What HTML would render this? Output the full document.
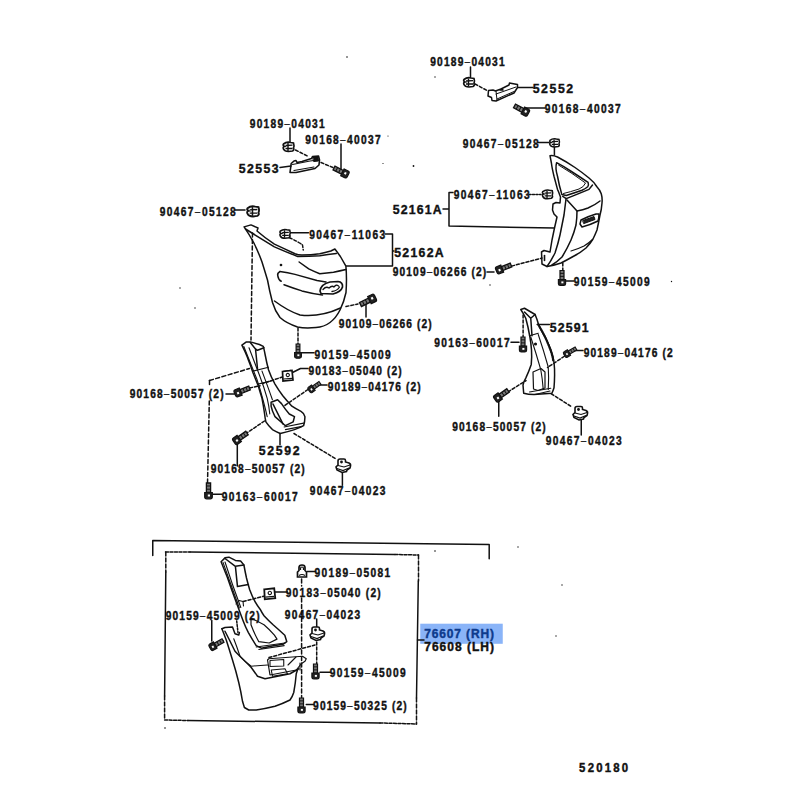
<!DOCTYPE html>
<html><head><meta charset="utf-8"><style>
html,body{margin:0;padding:0;background:#fff;width:800px;height:800px;overflow:hidden}
svg{display:block}
.t text{font-family:"Liberation Sans",sans-serif;font-weight:bold;font-size:12px;fill:#111;stroke:#111;stroke-width:0.4px}
.t text .d{font-weight:normal;stroke-width:0}
</style></head><body>
<svg width="800" height="800" viewBox="0 0 800 800">
<defs>
<g id="bolt">
 <path d="M0 -2.1 H9.5 V2.1 H0 Z" fill="#777" stroke="#111" stroke-width="1.3"/>
 <path d="M3 -2.1 V2.1 M6.2 -2.1 V2.1" stroke="#111" stroke-width="1"/>
 <path d="M9.5 -3.8 H14 Q15.8 -3.8 15.8 -1.8 V1.8 Q15.8 3.8 14 3.8 H9.5 Z" fill="#222" stroke="#111" stroke-width="1.2"/>
 <path d="M11.5 -1.5 h2 v2.2 h-2z" fill="#fff" stroke="none"/>
</g>
<g id="nut">
 <path d="M-5 -4.5 Q-5 -6.5 -3 -6.5 L1 -6.5 Q2.5 -6.5 2.5 -5 L2.5 -3.5 L6 -2.5 Q8 -1.5 7.5 0.5 L7 2.5 L4 4.5 L3.5 6 L-1 7 L-6 4.5 L-7 1.5 L-5 -0.5z" fill="#fff" stroke="#111" stroke-width="1.6"/>
 <path d="M-5 0 L1 1.5 L7 -0.5 M-6 3 L0 5 L6 2.5" stroke="#111" stroke-width="1.2" fill="none"/>
 <circle cx="-1.5" cy="-3.5" r="1.4" fill="#111"/>
</g>
<g id="clip">
 <path d="M-5 -3 Q-2 -5.5 2 -4.5 L5 -4 Q6 -1 5 1 Q6 3 4 4 L0 4.5 Q-4 4.5 -5 2 Q-6 0 -4 -0.5 Q-6 -1.5 -5 -3z" fill="#fff" stroke="#111" stroke-width="1.7"/>
 <path d="M-3 -1.5 L4 -1.8 M-3 1.5 L4 1.5" stroke="#111" stroke-width="1.3" fill="none"/>
 <path d="M-0.5 -4 V4" stroke="#111" stroke-width="1.4"/>
</g>
<g id="sq">
 <path d="M-5 -4 L4.5 -5 L5.5 4.5 L-4.5 5.5z" fill="#fff" stroke="#111" stroke-width="1.7"/>
 <circle cx="0.3" cy="-0.5" r="1.6" fill="none" stroke="#111" stroke-width="1.1"/>
 <path d="M-4 3.5 L4.5 2.8" stroke="#111" stroke-width="1.2"/>
</g>
</defs>
<rect x="420.25" y="623.7" width="82.5" height="20.1" fill="#8ab4f8"/>
<g class="t">
<text transform="translate(430.2,66) scale(0.85,1)" textLength="87.6" lengthAdjust="spacing">90189<tspan class="d">–</tspan>04031</text>
<text transform="translate(532.7,92.5) scale(0.93,1)" textLength="43.5" lengthAdjust="spacing" style="font-size:13.2px">52552</text>
<text transform="translate(544.7,112.5) scale(0.85,1)" textLength="89.4" lengthAdjust="spacing">90168<tspan class="d">–</tspan>40037</text>
<text transform="translate(462.7,148) scale(0.85,1)" textLength="89.4" lengthAdjust="spacing">90467<tspan class="d">–</tspan>05128</text>
<text transform="translate(249.7,128) scale(0.85,1)" textLength="88.2" lengthAdjust="spacing">90189<tspan class="d">–</tspan>04031</text>
<text transform="translate(305.2,144) scale(0.85,1)" textLength="88.8" lengthAdjust="spacing">90168<tspan class="d">–</tspan>40037</text>
<text transform="translate(238.7,172.5) scale(0.93,1)" textLength="43.0" lengthAdjust="spacing" style="font-size:13.2px">52553</text>
<text transform="translate(159.7,216) scale(0.85,1)" textLength="89.4" lengthAdjust="spacing">90467<tspan class="d">–</tspan>05128</text>
<text transform="translate(309.2,238.75) scale(0.85,1)" textLength="89.4" lengthAdjust="spacing">90467<tspan class="d">–</tspan>11063</text>
<text transform="translate(392.7,214) scale(0.93,1)" textLength="52.7" lengthAdjust="spacing" style="font-size:13.2px">52161A</text>
<text transform="translate(453.7,199) scale(0.85,1)" textLength="89.4" lengthAdjust="spacing">90467<tspan class="d">–</tspan>11063</text>
<text transform="translate(394.2,257) scale(0.93,1)" textLength="53.2" lengthAdjust="spacing" style="font-size:13.2px">52162A</text>
<text transform="translate(392.7,276) scale(0.85,1)" textLength="110.0" lengthAdjust="spacing">90109<tspan class="d">–</tspan>06266 (2)</text>
<text transform="translate(573.7,285.5) scale(0.85,1)" textLength="89.4" lengthAdjust="spacing">90159<tspan class="d">–</tspan>45009</text>
<text transform="translate(338.7,328) scale(0.85,1)" textLength="109.4" lengthAdjust="spacing">90109<tspan class="d">–</tspan>06266 (2)</text>
<text transform="translate(549.7,331.6) scale(0.93,1)" textLength="41.9" lengthAdjust="spacing" style="font-size:13.2px">52591</text>
<text transform="translate(434.3,347) scale(0.85,1)" textLength="88.7" lengthAdjust="spacing">90163<tspan class="d">–</tspan>60017</text>
<text transform="translate(583.7,357) scale(0.85,1)" textLength="104.7" lengthAdjust="spacing">90189<tspan class="d">–</tspan>04176 (2</text>
<text transform="translate(314.5,358.8) scale(0.85,1)" textLength="89.6" lengthAdjust="spacing">90159<tspan class="d">–</tspan>45009</text>
<text transform="translate(308.5,374.8) scale(0.85,1)" textLength="109.6" lengthAdjust="spacing">90183<tspan class="d">–</tspan>05040 (2)</text>
<text transform="translate(327.7,390.8) scale(0.85,1)" textLength="109.4" lengthAdjust="spacing">90189<tspan class="d">–</tspan>04176 (2)</text>
<text transform="translate(129.7,398) scale(0.85,1)" textLength="110.4" lengthAdjust="spacing">90168<tspan class="d">–</tspan>50057 (2)</text>
<text transform="translate(258.7,454.8) scale(0.93,1)" textLength="43.9" lengthAdjust="spacing" style="font-size:13.2px">52592</text>
<text transform="translate(452.2,430.7) scale(0.85,1)" textLength="110.0" lengthAdjust="spacing">90168<tspan class="d">–</tspan>50057 (2)</text>
<text transform="translate(545.7,445) scale(0.85,1)" textLength="89.4" lengthAdjust="spacing">90467<tspan class="d">–</tspan>04023</text>
<text transform="translate(210.7,473) scale(0.85,1)" textLength="110.6" lengthAdjust="spacing">90168<tspan class="d">–</tspan>50057 (2)</text>
<text transform="translate(309.7,494.8) scale(0.85,1)" textLength="89.2" lengthAdjust="spacing">90467<tspan class="d">–</tspan>04023</text>
<text transform="translate(221.7,500.8) scale(0.85,1)" textLength="89.4" lengthAdjust="spacing">90163<tspan class="d">–</tspan>60017</text>
<text transform="translate(314.5,576.6) scale(0.85,1)" textLength="88.9" lengthAdjust="spacing">90189<tspan class="d">–</tspan>05081</text>
<text transform="translate(285.7,596.5) scale(0.85,1)" textLength="111.8" lengthAdjust="spacing">90183<tspan class="d">–</tspan>05040 (2)</text>
<text transform="translate(165.7,620) scale(0.85,1)" textLength="110.4" lengthAdjust="spacing">90159<tspan class="d">–</tspan>45009 (2)</text>
<text transform="translate(284.7,619) scale(0.85,1)" textLength="88.8" lengthAdjust="spacing">90467<tspan class="d">–</tspan>04023</text>
<text transform="translate(424.2,650.7) scale(1.0,1)" textLength="69.8" lengthAdjust="spacing">76608 (LH)</text>
<text transform="translate(329.7,677.3) scale(0.85,1)" textLength="89.4" lengthAdjust="spacing">90159<tspan class="d">–</tspan>45009</text>
<text transform="translate(313.09999999999997,709.6) scale(0.85,1)" textLength="110.1" lengthAdjust="spacing">90159<tspan class="d">–</tspan>50325 (2)</text>
<text transform="translate(579.1,771.5) scale(0.95,1)" textLength="51.7" lengthAdjust="spacing">520180</text>
<text transform="translate(424.2,637.5)" textLength="69.8" lengthAdjust="spacing" style="fill:#0d3a8c;stroke:#0d3a8c">76607 (RH)</text>
</g>
<g fill="none" stroke="#111" stroke-width="1.5" stroke-linecap="round" stroke-linejoin="round">
<!-- ===== top right handle 52552 ===== -->
<path d="M470.5 67 V78"/>
<path d="M475 84 L488 91" stroke-dasharray="3 2"/>
<path d="M488.5 90.5 L488 96 L491.5 97.5 L492 100.5 L496 101 L514 93 L517.5 87.5 L517.5 84.5 L512 83.5 L509.5 83 L509 85 L501 89 L495.5 91 L493 90z"/>
<path d="M496 94 L516 87 M497 99 L514 91.5 M496 91 L497 100" stroke-width="1"/>
<path d="M500 90 l2 -1 l1 1z" fill="#111"/>
<path d="M518 87.5 H533"/>
<path d="M525.5 108 H545"/>
<!-- ===== right part 52161A ===== -->
<path d="M554.4 146.6 V155"/>
<path d="M538 142.5 H549"/>
<path d="M550 155.7 Q553 155 557.5 157 Q567 162 575 167.5 Q583 173 589 178 Q594 182 596.9 186.75 Q600 190 601.25 193.75 Q602.5 198 602 203 Q601.5 210 600 215 Q598.5 223 597 230 Q595 235 593 239 Q590 244 586 248 Q580 253 574 256 Q567 260 561 263 Q554 265.5 547 266.5 L542 264 L541.5 252 L544 250.5 L550 252 L552 240 L554.5 228 L557 217 L554 214 L552.5 210 L553 204 L556 202.5 L560 203 L560.5 197 Q558 190 557.5 189.4 Q555 180 554 176.25 Q552 168 551.4 163 Z"/>
<path d="M556.6 162.7 Q563 166 570.6 171 Q580 177 588.1 182.4 Q589 185 587.7 186.75 Q585 189 582 190.25 Q574 193 566.25 195.5 L561.9 194.6 Q559 185 557.5 176.25 Q555 168 556.6 162.7z"/>
<path d="M558.5 165 Q572 173 585.5 183 Q584 187 579 189 Q570 192 563.5 193.5" stroke-width="1"/>
<path d="M562.75 196.4 L566.25 198.6 Q578 194 589 189.4 L592.5 185"/>
<path d="M566 199 Q565 207 564 215 Q562 225 560 235 Q558 244 555 253 Q551 261 547 266.5"/>
<path d="M567 200 L577 211 Q577 218 576 225 Q574 233 571 240 Q567 249 562 257 Q557 262 552 265"/>
<path d="M577 211 Q583 210 588 208 Q595 205 600 201"/>
<path d="M581 220 Q589 216 596 214 L599 214 Q599 218 598 221 Q590 225 582 227 L580 224z"/>
<path d="M583 220.5 L594 216.5 L595 219.5 L584 223.5z" fill="#222" stroke-width="1"/>
<path d="M571 251 Q578 249 584 246 Q589 243 592 240" stroke-width="1.2"/>
<path d="M544.5 255.5 v5" stroke-width="1.6"/>
<path d="M529 194.5 L541 194.5" stroke-dasharray="2 1.5"/>
<path d="M449 192.5 V226 M449 192.5 H453 M443 209 H449 M449 226 L554.4 228.1"/>
<path d="M497 270 L542 258" stroke-dasharray="3 2"/>
<path d="M487 272 H494"/>
<path d="M562.8 263 V272" stroke-dasharray="3 2"/>
<path d="M566 281 H574"/>
<!-- ===== left handle 52553 ===== -->
<path d="M290 128 V143.5"/>
<path d="M295.5 150 L308.5 156.5" stroke-dasharray="3 2"/>
<path d="M290 172.5 L291.2 163.5 L294 161 L296 160.5 L297 162.5 L302 161.5 L311.5 158.5 L312.5 156.5 L318.5 156 L319.5 160 L319 165 L315 168.5 L296 172.5 Z" stroke-width="1.6"/>
<path d="M292.5 164.5 L310 161 L318 160 M294 170.5 L314 167" stroke-width="1.2"/>
<path d="M313 157.5 L318 157.5 L318.5 161 L314 161.5z" fill="#111" stroke-width="1"/>
<path d="M280 167.5 L291 166"/>
<path d="M341 144 V170"/>
<path d="M321 162.5 L334 168" stroke-dasharray="3 2"/>
<!-- ===== fender 52162A ===== -->
<path d="M235 210 H245"/>
<path d="M244.1 226.9 L251 224.9 L258 228 L257 231 Q265 238 274.4 244.1 Q285 249 295 253.75 Q298 255 301.9 255.1 Q311 255 319.75 253.75 Q325 252.5 330.8 251 L334.9 249 Q337.5 252.5 340.4 256.5 Q343 261 345.9 266.1 Q347 278 346 292.5 Q344 302 340 310 Q336 318 330 322.5 Q324 327 316 327.5 Q305 328.5 297.5 327 Q286 323 280 317.5 Q275 311 272.5 302.5 Q269.5 291 267.5 280 Q264.5 270 262 262 Q258 251 253.75 242.75 Q249 234 244.1 226.9z"/>
<path d="M245.5 229 Q260 238 274.4 246.9 Q286 252 297.75 256.5 Q309 256.5 319.75 255.8 Q328 254.5 336.3 253.5"/>
<path d="M299.1 262 Q304 265.5 308.75 268.9 Q314 271.5 319.75 273.7 Q327 273 333.5 272.3 Q340 271 345.9 269.6"/>
<path d="M279.9 271.6 Q288 272.5 295 274.4 Q306 277.5 317 280.5 L326 282"/>
<path d="M279.9 271.6 Q277 273 277.8 275.8 Q278.5 280 281.25 281.3"/>
<path d="M284 284.7 Q293 288 301.9 290.9 Q312 293.5 322.5 295"/>
<path d="M320 291 Q321 284 330 282 L338 281.5 Q343 282 342.5 287 Q341 292 333 294 L321 293.5z" stroke-width="1.7"/>
<path d="M323 289.5 Q326 286 329 288 Q332 285 334 287 Q336 284 338.5 286 M332 291.5 Q337 291 339.5 287" stroke-width="1.3"/>
<path d="M274.5 301 Q288 311 300 315 Q320 317.5 340.5 308"/>
<circle cx="281" cy="265" r="0.6" fill="#111"/>
<path d="M290.5 232.7 H308.5"/>
<path d="M289 237.5 Q299 242 302.5 245 L303.25 250" stroke-dasharray="3 2"/>
<path d="M385 234 H392.5 V266 M346.5 266 H392.5 M392.5 251 H394"/>
<path d="M346 306.5 L358 304" stroke-dasharray="3 2"/>
<path d="M366 304 V317"/>
<path d="M252.5 233 L251 340" stroke-dasharray="4 2.5"/>
<path d="M298 328 L298 345" stroke-dasharray="3 2"/>
<path d="M302 352.75 H314"/>
<!-- ===== 52592 ===== -->
<path d="M241.9 345.1 L246.4 341.9 L250.3 341.9 L259.4 344.5 L263.3 346.4 Q264.5 351 265.3 355.5 Q266.5 362 268.5 369.8 Q271 377 275 384.1 Q278.5 390 282.8 395.8 Q287 401 291.9 406.2 Q296 409 301 411.4 Q304 413 304.9 416.6 Q305 421 303.6 425.7 Q299.5 428 294.5 429.6 Q287 432 280.2 433.5 Q276 431.5 272.4 429.6 Q268 425 265.9 421.8 Q265 418 264.6 414 Q263.5 406 262 398.4 Q260 392 258.1 385.4 Q255.5 379 252.9 372.4 Q250.5 365 247.7 358.1 Q245 351 241.9 345.1z"/>
<path d="M243.8 346.4 Q250 362 256.8 378.9 Q260.5 390 263.3 401 Q265.5 409 267.2 416.6" stroke-width="1.1"/>
<path d="M249 347.7 Q254 361 259.4 375 Q264 387 267.2 398.4 Q269 406 269.8 414" stroke-width="1.1"/>
<path d="M250.3 342.5 L255.5 349 L257.5 350.3 L264 347.7 M255.5 349 L257.5 368.5"/>
<path d="M252.9 371.1 L268.5 367.2 M258.1 384.1 L273.7 380.2" stroke-width="1.1"/>
<path d="M262 371.1 Q268 387 272.4 399.7" stroke-width="1.1"/>
<path d="M271.1 402.3 L277.6 399.7 L281.5 403.6 Q285 409 289.3 414 L294.5 416.6 L293.2 421.8 L285.4 425.7 Q280 421 275 416.6 Q272 411 271.1 406.2z"/>
<path d="M273 404 Q278 414 283 424" stroke-width="1.6"/>
<path d="M284.1 427 L303.6 423.1 M285.4 429.6 L302.3 426.4" stroke-width="1.1"/>
<path d="M291.5 373 L300.5 368.5 L308 368.5"/>
<path d="M283.5 371.5 L291 370.5 L292 378.5 L285 380 z"/>
<path d="M283 376.75 L263 383.5" stroke-dasharray="3 2"/>
<path d="M226 394 H234.5"/>
<path d="M249.5 388 L260 385.75" stroke-dasharray="3 2"/>
<path d="M209.5 380.5 L249.5 368.5" stroke-dasharray="4 2.5"/>
<path d="M209.5 380.5 V386" stroke-dasharray="4 2.5"/>
<path d="M209.3 401 L207.5 484" stroke-dasharray="4 2.5"/>
<path d="M308 389.5 L284 406" stroke-dasharray="3 2"/>
<path d="M320 385 H327"/>
<path d="M264.5 421 L246 433.5" stroke-dasharray="3 2"/>
<path d="M237.3 442.5 V466"/>
<path d="M280 433.5 V444.75"/>
<path d="M294 433.5 L336.75 459.4" stroke-dasharray="3 2"/>
<path d="M342.4 472.9 V485.25"/>
<path d="M213 494.25 H222"/>
<!-- ===== 52591 ===== -->
<path d="M520.75 309.5 L524.5 308.25 L535.1 314.5 L537 319.5 Q538 323 539.5 327 Q542.5 333 545.75 338.25 Q548.5 344 550.75 349.5 Q553 356 554 362 Q554.8 370 554.6 375 Q554.5 382 554 387.75 Q553 391 551.9 393.25 L534 394.6 Q528 394.5 523.7 393.25 L523 385 Q524 381 525.75 378.1 Q529 371 531.25 364.4 Q532 357 531.5 350 Q531 343 529.9 337 Q528 326 525.75 318.25 Q523.5 313.5 520.75 309.5z"/>
<path d="M524.5 312 L530.75 318.25 L535.1 314.5 M530.75 318.25 L532 335.75"/>
<path d="M529.5 335.75 L538.25 333.25" stroke-width="1.2"/>
<path d="M538.25 324.5 Q541.5 330 544.5 335.75 Q548 343 550.75 350.75 Q552.5 355.5 553.25 360.75" stroke-width="2.2" stroke-dasharray="1.5 1"/>
<path d="M530.75 337 Q536 353 540.75 369.5 Q542.5 379 543.25 389.5" stroke-width="1.1"/>
<path d="M538.25 334.5 Q543.5 350 548.25 367 Q549 378 548.25 389.5" stroke-width="1.1"/>
<path d="M533 372 L541 368.5 L545 372 L545 388 L538 390.5 L533.5 389z" stroke-width="1.2"/>
<path d="M529.5 392 L550.75 388.25 M535 394.5 L550 391" stroke-width="1.1"/>
<circle cx="535.5" cy="344" r="0.8" fill="#111"/>
<path d="M523.1 315 V337.5" stroke-dasharray="3 2"/>
<path d="M511 342.2 H519"/>
<path d="M537.2 324.4 H549.4"/>
<path d="M575.6 350.6 H583"/>
<path d="M564.4 356.25 L547.5 367.5" stroke-dasharray="3 2"/>
<path d="M508 391.9 L526 380.6" stroke-dasharray="3 2"/>
<path d="M498.75 401.25 V416.25"/>
<path d="M551.25 393.75 L571.9 406.9" stroke-dasharray="3 2"/>
<path d="M581.25 420 V435"/>
<!-- ===== lower assembly 76607 ===== -->
<path d="M152.75 555.6 V540.6 L489.2 544.5 V558.75"/>
<path d="M165.5 552 L190 552.1" stroke-dasharray="3 1.5"/>
<path d="M190 552.1 L395 554.5"/>
<path d="M395 554.5 L418.5 555" stroke-dasharray="3 1.5"/>
<path d="M418.5 555 V581" stroke-dasharray="4 2"/>
<path d="M418.3 581 L416.5 698"/>
<path d="M416.5 698 V724" stroke-dasharray="4 2"/>
<path d="M165.8 552 V572" stroke-dasharray="4 2"/>
<path d="M165.8 572 L164.6 696"/>
<path d="M164.6 696 V720" stroke-dasharray="4 2"/>
<path d="M164.6 720 L188 720.5" stroke-dasharray="3 1.5"/>
<path d="M188 720.5 L380 723"/>
<path d="M380 723 L416.5 724" stroke-dasharray="3 1.5"/>
<path d="M417.5 640 H424"/>
<path d="M221.1 561.75 L225 557.85 L228.9 557.2 L235.4 560.45 L240.6 561.1 L243.9 565 Q245 571 246.5 578 Q248 584 249.7 589.7 Q252 596 254.9 601.4 Q257.5 606 260.1 609.2 Q262 613 264 615.7 Q268 620 273.1 624.8 Q279 630 284.8 635.2 L286.8 641.7 L282.9 644.3 Q272 646 261.4 648.2 L256.2 645.6 Q252 639 248.4 632.6 Q245.5 627 243.2 620.9 Q239 610 235.4 600.1 Q231 588 227.6 578 Q224 569 221.1 561.75z"/>
<path d="M225 558.5 L235.4 566.3 L243.9 565 M235.4 566.3 L237.4 585.8 M237.4 586.5 L248.4 584.5"/>
<path d="M223 562.4 Q231 585 239.3 607.9 M225 562 Q232 584 240.8 607.5" stroke-width="1.1"/>
<path d="M251 618.3 Q257 621 264 624.8 Q270 630 274.4 635.2 L277 639.1 L269.2 643 L258.8 641.7 Q254 633 251 624.8z" stroke-width="1.2"/>
<path d="M256.2 647 L284.8 643 M258.8 649.5 L284.2 645.6" stroke-width="1.1"/>
<path d="M243.2 601.4 L264 596.2" stroke-dasharray="3 2"/>
<path d="M236 604 L239 600.5 L243 601.5 L243.5 606" stroke-width="1.1"/>
<path d="M275 592 H287.3"/>
<path d="M221.9 628.75 L225 627.5 L232.5 626.9 L235 633.75 L238.75 635 L239.4 632.5"/>
<path d="M221.9 628.75 Q224 634 226.25 640 Q229.5 650 232.5 660 Q236 671 238.75 682.5 Q241 692 242.5 701.25 L244.4 707.5 L248.75 710 L256.25 710 Q266 708.5 275 706.25 Q283 703.5 290 700 Q292.5 696.5 293.75 692.5 Q295.5 683 296.25 673.75 L297.5 670"/>
<path d="M225 631.25 Q230 641 235 651.25 Q239.5 656 243.75 660 Q247.5 663.5 251.25 667.5 Q254.5 672 257.5 676.25 L265 678.75 L290 673.75 L298.75 668.75"/>
<path d="M233.75 638.75 Q237 647 240 656.25 Q245 662 251.25 666.25 Q259 665.5 267.5 665" stroke-width="1.1"/>
<path d="M268.75 658.75 L302.5 656.25 L306.25 658.75 L305 661.25 L301.25 663.75 L296.25 670 L270 675 L267.5 660z" stroke-width="1.2"/>
<path d="M270 660.5 L283.75 659.5 L283.75 666 L270 666.5z" stroke-width="1.1"/>
<path d="M271.25 670 L285 668.75 L287.5 673.75 L272.5 676.25z" stroke-width="1.1"/>
<path d="M288 665 L296 657 M300 663 V670" stroke-width="1.1"/>
<path d="M236.7 621 L238 632.6" stroke-dasharray="2 1.5"/>
<path d="M211.75 620.4 V641"/>
<path d="M216.25 644 L223 640.6" stroke-dasharray="2 1.5"/>
<path d="M307.4 571.6 H315.5"/>
<path d="M301.6 579 V586" stroke-dasharray="4 2.5"/>
<path d="M301.6 598 V698" stroke-dasharray="4 2.5"/>
<path d="M316.7 619 V627"/>
<path d="M316.7 642 V664" stroke-dasharray="3 2"/>
<path d="M269 657.5 L315 645" stroke-dasharray="3 2"/>
<path d="M320 672.2 H330.5"/>
<path d="M306.25 704.6 H313.6"/>

<g fill="#111" stroke="none">
<circle cx="347" cy="57" r="0.8"/><circle cx="388" cy="136" r="0.6"/><circle cx="180" cy="288" r="0.7"/><circle cx="195" cy="308" r="0.7"/>
<circle cx="165" cy="728" r="0.8"/><circle cx="435" cy="551" r="0.8"/><circle cx="518" cy="547" r="0.7"/><circle cx="562" cy="585" r="0.7"/><circle cx="556" cy="636" r="0.7"/>
<circle cx="435" cy="77" r="0.7"/><circle cx="671.5" cy="281.5" r="0.7"/><circle cx="490" cy="285" r="0.7"/><circle cx="413.5" cy="166" r="0.9"/><circle cx="383" cy="163.5" r="0.6"/>
</g>
</g>
<use href="#clip" transform="translate(469,82.5) rotate(0) scale(1.0)"/>
<use href="#bolt" transform="translate(514.5,106) rotate(28) scale(1.0)"/>
<use href="#clip" transform="translate(288.5,147) rotate(0) scale(1.0)"/>
<use href="#bolt" transform="translate(334,168) rotate(27) scale(1.0)"/>
<use href="#clip" transform="translate(554.5,143) rotate(0) scale(0.9)"/>
<use href="#clip" transform="translate(547.5,194.5) rotate(0) scale(0.95)"/>
<use href="#bolt" transform="translate(511,265) rotate(158) scale(1.0)"/>
<use href="#bolt" transform="translate(562,270.5) rotate(90) scale(0.95)"/>
<use href="#clip" transform="translate(253,211.5) rotate(0) scale(1.1)"/>
<use href="#clip" transform="translate(285,234) rotate(0) scale(0.95)"/>
<use href="#bolt" transform="translate(360.5,304.5) rotate(-26) scale(1.05)"/>
<use href="#bolt" transform="translate(298,344) rotate(90) scale(0.9)"/>
<use href="#sq" transform="translate(287.5,375.5) rotate(0) scale(1.0)"/>
<use href="#bolt" transform="translate(249.5,388) rotate(158) scale(1.0)"/>
<use href="#bolt" transform="translate(320,383) rotate(145) scale(0.85)"/>
<use href="#bolt" transform="translate(247,433) rotate(145) scale(1.0)"/>
<use href="#nut" transform="translate(343,465.5) rotate(0) scale(1.0)"/>
<use href="#bolt" transform="translate(208.5,483) rotate(90) scale(1.0)"/>
<use href="#bolt" transform="translate(523,337) rotate(90) scale(0.95)"/>
<use href="#bolt" transform="translate(576,348.5) rotate(150) scale(0.85)"/>
<use href="#bolt" transform="translate(508,390.5) rotate(145) scale(1.0)"/>
<use href="#nut" transform="translate(580,413) rotate(0) scale(1.0)"/>
<use href="#sq" transform="translate(269.5,593.5) rotate(0) scale(1.05)"/>
<use href="#bolt" transform="translate(223,640.5) rotate(150) scale(0.95)"/>
<use href="#nut" transform="translate(317,633.5) rotate(0) scale(1.0)"/>
<use href="#bolt" transform="translate(315.5,664) rotate(90) scale(0.95)"/>
<use href="#bolt" transform="translate(301.5,698) rotate(90) scale(0.95)"/><path d="M297.5 577 v-5 l1.5 -1.5 v-3 q0 -2.5 3 -2.5 q3 0 3 2.5 v3 l1.5 1.5 v5z" fill="#fff" stroke="#111" stroke-width="1.7"/><path d="M300.5 570 v-1.5 q0 -1.5 1.5 -1.5 q1.5 0 1.5 1.5 v1.5 M299 575.5 q3 -2 6 0" fill="none" stroke="#111" stroke-width="1.2"/>
</svg>
</body></html>
